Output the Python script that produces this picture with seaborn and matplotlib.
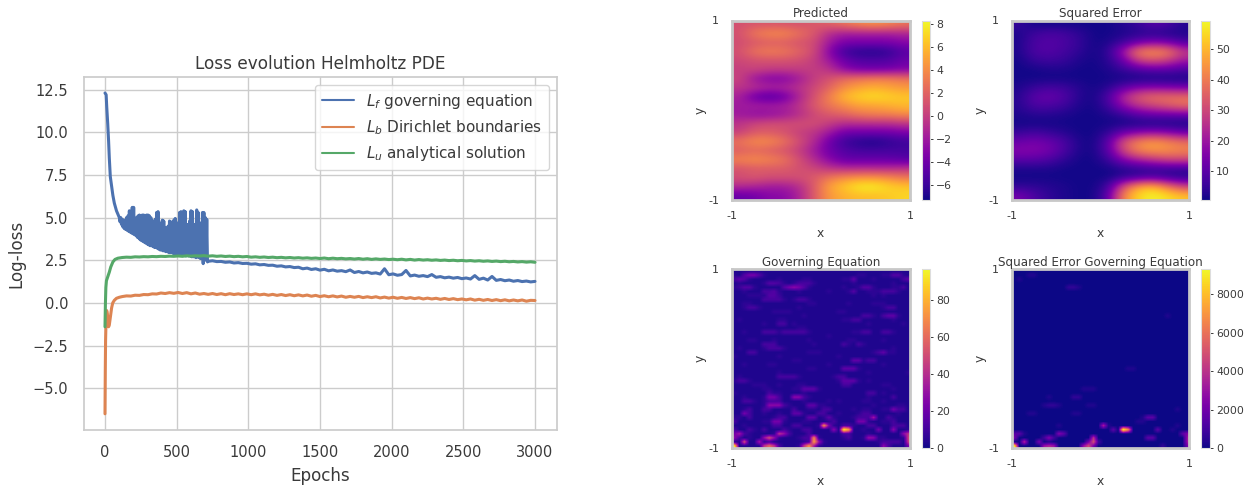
import numpy as np
import matplotlib
matplotlib.use("Agg")
import matplotlib.pyplot as plt
import seaborn as sns

# --- loss curves ---
lf_start_x = [0, 8, 12, 19, 25, 30, 37, 45, 55, 65, 80, 95]
lf_start = [12.3, 12.2, 11.5, 10.5, 9.5, 8.5, 7.4, 6.9, 6.3, 5.85, 5.4, 5.1]
# noisy part 100..710 every 10 epochs, top and bottom of the band
lf_band_x = list(range(100, 720, 10))
lf_band_hi = [5.0, 5.0, 4.9, 4.85, 4.85, 5.0, 5.1, 5.4, 4.9, 5.6, 5.6, 4.9, 5.0, 5.1, 5.15, 5.1,
              5.15, 5.15, 5.1, 5.15, 5.15, 5.1, 5.0, 4.8, 4.4, 4.9, 5.3, 5.35, 4.7, 4.5, 4.85, 4.8,
              4.4, 4.15, 4.5, 4.8, 4.75, 4.6, 4.85, 4.95, 4.7, 4.5, 5.3, 5.35, 4.6, 5.4, 5.35, 4.6,
              4.6, 4.8, 5.4, 5.35, 4.6, 4.4, 5.45, 5.3, 4.7, 4.5, 5.3, 5.3, 5.0, 4.9]
lf_band_lo = [4.75, 4.6, 4.45, 4.35, 4.3, 4.25, 4.2, 4.15, 4.1, 4.05, 4.0, 3.95, 3.85, 3.8, 3.7, 3.65,
              3.6, 3.55, 3.5, 3.45, 3.4, 3.35, 3.35, 3.3, 3.25, 3.25, 3.2, 3.15, 3.1, 3.1, 3.05, 3.05,
              3.0, 3.0, 2.95, 2.95, 2.95, 2.9, 2.9, 2.9, 2.85, 2.85, 2.8, 2.85, 2.8, 2.8, 2.75, 2.8,
              2.75, 2.75, 2.7, 2.7, 2.7, 2.65, 2.7, 2.65, 2.6, 2.6, 2.3, 2.6, 2.5, 2.4]
lf_tail_x = list(range(720, 3030, 30))
lf_tail = [2.44, 2.47, 2.42, 2.43, 2.38, 2.4, 2.34, 2.36, 2.31, 2.32, 2.27, 2.29, 2.23, 2.25, 2.2, 2.21,
           2.15, 2.17, 2.11, 2.13, 2.07, 2.09, 2.0, 2.04, 1.96, 2.0, 1.92, 1.97, 1.88, 1.93, 1.86, 1.89,
           1.83, 1.93, 1.78, 1.84, 1.76, 1.81, 1.73, 1.76, 1.69, 2.0, 1.65, 1.7, 1.62, 1.66, 1.9, 1.58,
           1.63, 1.56, 1.6, 1.54, 1.66, 1.5, 1.54, 1.47, 1.51, 1.45, 1.49, 1.42, 1.46, 1.4, 1.6, 1.38,
           1.45, 1.34, 1.55, 1.32, 1.37, 1.3, 1.34, 1.27, 1.31, 1.25, 1.28, 1.23, 1.26]

lb_start_x = [0, 2, 4, 6, 8, 12, 16, 20, 25, 30, 38, 46, 54, 65, 80, 100]
lb_start = [-6.5, -4, -2.2, -1.5, -0.6, -0.45, -0.6, -1.0, -1.4, -1.3, -0.8, -0.3, 0, 0.15, 0.27, 0.33]
lu_start_x = [0, 3, 6, 10, 20, 30, 40, 55, 70, 90]
lu_start = [-1.4, 0, 0.9, 1.3, 1.55, 1.8, 2.1, 2.4, 2.55, 2.62]
tail_x = list(range(120, 3030, 30))
lb_tail = [.37, .41, .4, .45, .44, .49, .48, .53, .52, .58, .55, .6, .56, .61, .55, .6, .53, .58, .51, .55,
           .5, .55, .49, .54, .48, .54, .49, .53, .48, .53, .48, .53, .47, .51, .45, .5, .44, .49, .43, .48,
           .42, .47, .41, .46, .39, .44, .37, .42, .36, .41, .35, .4, .33, .38, .33, .38, .31, .36, .31, .36,
           .29, .34, .28, .33, .27, .32, .26, .31, .25, .3, .23, .28, .23, .27, .21, .26, .2, .25, .19, .23,
           .18, .23, .16, .21, .15, .2, .14, .19, .13, .18, .12, .17, .12, .17, .1, .15, .14]
lu_tail = [2.66, 2.68, 2.67, 2.7, 2.69, 2.71, 2.7, 2.72, 2.71, 2.73, 2.72, 2.74, 2.73, 2.75, 2.73, 2.76,
           2.74, 2.76, 2.75, 2.77, 2.74, 2.76, 2.73, 2.75, 2.72, 2.74, 2.71, 2.73, 2.7, 2.72,
           2.68, 2.7, 2.67, 2.69, 2.66, 2.68, 2.65, 2.67, 2.64, 2.66, 2.63, 2.65, 2.62, 2.64, 2.61, 2.63,
           2.6, 2.63, 2.59, 2.62, 2.59, 2.61, 2.58, 2.6, 2.57, 2.6, 2.56, 2.59, 2.55, 2.58,
           2.55, 2.57, 2.54, 2.56, 2.53, 2.56, 2.52, 2.55, 2.51, 2.54, 2.51, 2.53, 2.5, 2.52, 2.49, 2.51,
           2.48, 2.5, 2.47, 2.49, 2.46, 2.48, 2.45, 2.47, 2.44, 2.46, 2.43, 2.45, 2.42, 2.44,
           2.41, 2.43, 2.4, 2.42, 2.39, 2.41, 2.38]

# --- heatmap grids, top row first ---
predicted = [
    [1, 1.2, 1.2, 1.2, 1, 1.5, 2, 3, 4, 4.5, 4, 3],
    [1, 3.2, 4, 4, 2.8, 1.5, -1, -2, -2, -2, -2, -1.5],
    [0.8, 1.2, 1.5, 1.5, 1, 0.8, -2, -3.5, -3.5, -3.5, -3.5, -3],
    [1, 3, 3.5, 3.2, 2.2, 0.8, -3, -6, -6.8, -7, -6.5, -5],
    [0.5, 0.8, 1, 1, 0.8, 0, -2, -4, -5, -5, -5, -4],
    [0, 0.5, 0, 0, 0, 0, -0.5, -3, -4, -4.2, -4, -3.5],
    [0.5, -2.5, -3.5, -3.5, -2, 0, 1, 2.5, 3, 3.5, 3.5, 3],
    [-0.5, -0.5, -1, -1, -0.5, 0.5, 2, 4, 5, 5.5, 5, 4.5],
    [-1.5, -4.5, -5.5, -4.5, -1.5, 1, 3.5, 6, 7, 7.5, 7, 6.5],
    [-2, -1.5, -1.5, -1.5, -0.5, 1.5, 3, 4, 5, 5, 5.5, 6],
    [-2, -2.8, -2.8, -2.2, -1, 0.5, 1.5, 2, 3, 3.5, 3.5, 4],
    [-0.5, 0.5, 1, 1, 1, 1, 0, -1, -1, -1, -1, -0.5],
    [0, 1.5, 1.5, 1, 0, -0.5, -2, -4, -4, -4, -4, -3.5],
    [3, 4.2, 4.2, 3, 1, -1, -4, -6, -6.8, -7.2, -6.5, -6],
    [1.5, 2, 1.5, 1, 0, -2, -4, -5, -5.5, -5.5, -5.5, -5.5],
    [3.8, 4.2, 3.8, 3, 1, -1, -3, -4.5, -4.5, -4.5, -4.5, -5],
    [1, 1.5, 1.5, 1.5, 1, 0.5, -0.5, -1, -1, -1, -1, -0.5],
    [1, 1.5, 1, 1, 1, 1.5, 3, 4, 4.5, 4.5, 4, 3],
    [-1, -1.5, -2, -2, -1, 1.5, 5, 6.5, 8, 8.2, 7, 6.5],
    [-4.5, -4, -3, -3, -1.5, 1.5, 4.5, 5.5, 6, 6, 6.5, 7],
]
squared_error = [
    [5, 1, 1, 1, 1, 1, 1, 3, 5, 10, 8, 3],
    [2, 6, 8, 7, 4, 1, 1, 2, 3, 3, 2, 2],
    [2, 8, 9, 8, 5, 1, 2, 6, 12, 16, 14, 8],
    [2, 8, 9, 7, 4, 1, 4, 20, 42, 45, 42, 28],
    [1, 5, 6, 5, 2, 1, 3, 12, 28, 32, 28, 20],
    [1, 1, 2, 2, 1, 1, 2, 5, 8, 10, 10, 8],
    [1, 1, 1, 1, 1, 1, 1, 1, 1, 1, 1, 1],
    [2, 5, 7, 6, 3, 1, 3, 10, 15, 16, 15, 14],
    [3, 10, 12, 9, 3, 1, 8, 24, 34, 38, 38, 38],
    [3, 8, 8, 6, 2, 1, 6, 18, 26, 30, 34, 38],
    [2, 3, 3, 2, 1, 1, 2, 5, 10, 12, 12, 12],
    [1, 1, 1, 1, 1, 1, 1, 1, 1, 1, 1, 1],
    [5, 7, 5, 3, 1, 1, 4, 12, 16, 18, 16, 12],
    [12, 14, 12, 8, 2, 1, 10, 32, 42, 46, 42, 38],
    [16, 16, 14, 8, 2, 1, 10, 30, 42, 45, 44, 42],
    [10, 10, 8, 4, 1, 1, 5, 16, 22, 26, 30, 30],
    [2, 2, 2, 1, 1, 1, 1, 3, 4, 5, 5, 5],
    [1, 1, 1, 1, 1, 1, 1, 4, 6, 8, 5, 3],
    [4, 4, 3, 2, 1, 1, 6, 32, 48, 52, 40, 30],
    [14, 8, 4, 2, 1, 1, 10, 42, 55, 59, 56, 52],
]
# one base-36 character per cell, units of 2.75
governing_rows = [
    "111111 111111 111111 111111 111111 111111",
    "215885 211111 111111 111111 122111 225521",
    "465211 111211 112211 111122 611121 111146",
    "121111 255421 244421 111111 211111 112111",
    "235521 111158 a85211 111121 125521 112241",
    "112111 445211 121111 121112 511222 444211",
    "111222 255311 111111 111111 111121 211111",
    "111111 444421 244211 111111 111111 111111",
    "112211 111111 111221 111112 111122 211111",
    "112442 111111 121111 111111 111111 244111",
    "111111 112222 111111 111221 111111 111111",
    "111111 111111 112111 111111 114421 466211",
    "121111 111221 111111 111122 441111 112111",
    "111111 211441 211111 111111 111211 111121",
    "111111 111111 122111 111111 111111 111111",
    "112111 444244 444211 111111 224411 442111",
    "111111 111111 111111 121111 111111 111111",
    "111221 112111 111211 111112 211111 211111",
    "111111 444111 111121 111142 142111 111111",
    "121111 244421 111111 111111 111111 112111",
    "111441 111111 111222 111111 111124 622111",
    "211111 111211 111111 111211 111111 111111",
    "111111 111111 221111 111111 662441 111111",
    "112111 122111 111111 121111 111111 211111",
    "111111 111111 111221 111166 621111 111111",
    "111111 111211 111111 111111 111211 111112",
    "121111 111444 421111 112441 111111 111111",
    "244211 111111 111111 111266 621211 111111",
    "111122 211211 122111 111144 111111 221111",
    "111111 221111 226662 111111 111111 112111",
    "211111 142211 112111 111111 111441 211111",
    "112111 288411 aa4211 111111 111211 114111",
    "114421 244411 112111 121211 112211 211111",
    "111111 2aaa42 111662 211111 111121 111221",
    "112411 441111 411221 441111 212211 228441",
    "118411 211211 662114 411211 124411 111211",
    "221411 112441 111661 262111 2444c1 142111",
    "411111 228821 112211 124111 188211 224111",
    "112111 114411 441112 p82144 211441 114441",
    "411421 411142 114411 11a1zr 112118 11a112",
    "8c4211 112fb4 111411 111144 111211 1111af",
    "a41211 bib211 1244p2 111124 112ba2 21112h",
    "21i11c 241111 1124rb 211111 111112 44441g",
    "z11111 gmg411 12grc2 111111 111111 a41118",
]
# same layout, units of 300
sq_error_gov_rows = [
    "000000 000000 000000 000000 000000 000000",
    "000110 000000 000000 000000 000000 000000",
    "010000 000000 000000 000000 000000 000000",
    "000000 000000 000000 000000 000000 000000",
    "000000 000002 210000 000000 000000 000000",
    "000000 000000 000000 000000 000000 000000",
    "000000 000000 000000 000000 000000 000000",
    "000000 000000 000000 000000 000000 000000",
    "000000 000000 000000 000000 000000 000000",
    "000000 000000 000000 000000 000000 000000",
    "000000 000000 000000 000000 000000 000000",
    "000000 000000 000000 000000 000000 010000",
    "000000 000000 000000 000000 000000 000000",
    "000000 000000 000000 000000 000000 000000",
    "000000 000000 000000 000000 000000 000000",
    "000000 000000 000000 000000 000000 000000",
    "000000 000000 000000 000000 000000 000000",
    "000000 000000 000000 000000 000000 000000",
    "000000 000000 000000 000000 000000 000000",
    "000000 000000 000000 000000 000000 000000",
    "000000 000000 000000 000000 000000 000000",
    "000000 000000 000000 000000 000000 000000",
    "000000 000000 000000 000000 000000 000000",
    "000000 000000 000000 000000 000000 000000",
    "000000 000000 000000 000001 100000 000000",
    "000000 000000 000000 000000 000000 000000",
    "000000 000000 000000 000000 000000 000000",
    "000000 000000 000000 000000 000000 000000",
    "000000 000000 000000 000000 000000 000000",
    "000000 000000 001110 000000 000000 000000",
    "000000 000000 000000 000000 000000 000000",
    "000000 010000 220000 000000 000000 000000",
    "000000 000000 000000 000000 000000 000000",
    "000000 122100 000110 000000 000000 000000",
    "000000 000000 000000 000000 000000 000100",
    "000110 000000 110000 000000 000000 000000",
    "000000 000000 000000 000000 001550 000000",
    "000000 000000 000000 000000 011000 000000",
    "000000 000100 000000 b10000 000000 000100",
    "000000 000000 000000 0050vm 000005 001000",
    "551000 000850 000000 000000 000000 000058",
    "700000 383000 0000d0 000000 000550 00000a",
    "00c007 010000 0007g3 000000 000000 00000a",
    "v00000 aca000 00ag70 000000 000000 200007",
]
tick_predicted = [-6, -4, -2, 0, 2, 4, 6, 8]
tick_squared = [10, 20, 30, 40, 50]
tick_governing = [0, 20, 40, 60, 80]
tick_sq_gov = [0, 2000, 4000, 6000, 8000]


def decode(rows, unit):
    return np.array([[int(c, 36) * unit for c in r.replace(" ", "")] for r in rows], dtype=float)


W, H = 1256, 491
sns.set_theme(style="whitegrid", palette="deep")
TXT = "#3a3a3a"
fig = plt.figure(figsize=(W / 100, H / 100), dpi=100)


def px_axes(l, t, r, b):
    return fig.add_axes([l / W, 1 - b / H, (r - l) / W, (b - t) / H])


# left panel
ax = px_axes(83.5, 77, 556.5, 430)
lf_x = lf_start_x + [v for e in lf_band_x for v in (e, e + 5)] + lf_tail_x
lf_y = lf_start + [v for p in zip(lf_band_hi, lf_band_lo) for v in p] + lf_tail
lb_x = lb_start_x + tail_x
lb_y = lb_start + lb_tail
lu_x = lu_start_x + tail_x
lu_y = lu_start + lu_tail
for xs, ys, lab in [(lf_x, lf_y, r"$L_f$ governing equation"),
                    (lb_x, lb_y, r"$L_b$ Dirichlet boundaries"),
                    (lu_x, lu_y, r"$L_u$ analytical solution")]:
    sns.lineplot(x=xs, y=ys, estimator=None, errorbar=None, sort=False, label=lab, lw=2.2, ax=ax)
ax.set_xlim(-150, 3150)
ax.set_ylim(-7.45, 13.24)
ax.set_xticks([0, 500, 1000, 1500, 2000, 2500, 3000])
ax.set_yticks([-5, -2.5, 0, 2.5, 5, 7.5, 10, 12.5])
ax.tick_params(labelsize=10.5, labelcolor=TXT, pad=5)
ax.set_title("Loss evolution Helmholtz PDE", fontsize=12.2, color=TXT, pad=6)
ax.set_xlabel("Epochs", fontsize=12.1, color=TXT, labelpad=5)
ax.set_ylabel("Log-loss", fontsize=12.1, color=TXT, labelpad=5)
leg = ax.legend(loc="upper right", fontsize=11, labelcolor=TXT, handlelength=2.1,
                borderaxespad=0.5, labelspacing=0.5, borderpad=0.45)
for h in leg.get_lines():
    h.set_linewidth(1.5)

# right panels
panels = [
    (predicted, "Predicted", 731.5, 910, 921.5, 930, 20.5, 200, -7.3, 8.3, tick_predicted, "bicubic"),
    (squared_error, "Squared Error", 1011.5, 1189, 1200.5, 1210, 20.5, 200, 0.5, 59.5, tick_squared, "bicubic"),
    (decode(governing_rows, 2.75), "Governing Equation", 731.5, 910, 921.5, 930, 269, 448, 0, 97, tick_governing, "bilinear"),
    (decode(sq_error_gov_rows, 300), "Squared Error Governing Equation", 1011.5, 1189, 1200.5, 1210, 269, 448, 0, 9300, tick_sq_gov, "bilinear"),
]
for data, title, l, r, cl, cr, t, b, vmin, vmax, cticks, interp in panels:
    a = px_axes(l, t, r, b)
    im = a.imshow(np.array(data, dtype=float), cmap="plasma", vmin=vmin, vmax=vmax, aspect="auto",
                  interpolation=interp, extent=[-1, 1, -1, 1])
    a.grid(False)
    a.set_xticks([-1, 1], ["-1", "1"])
    a.set_yticks([-1, 1], ["-1", "1"])
    a.tick_params(axis="x", labelsize=8, labelcolor=TXT, length=0, pad=8)
    a.tick_params(axis="y", labelsize=8, labelcolor=TXT, length=0, pad=9)
    a.set_title(title, fontsize=8.6, color=TXT, pad=2.5)
    a.set_xlabel("x", fontsize=8.8, color=TXT, labelpad=4)
    a.set_ylabel("y", fontsize=8.8, color=TXT, labelpad=1)
    for s in a.spines.values():
        s.set_color("#c8c8c8")
        s.set_linewidth(2)
    cax = px_axes(cl, t, cr, b)
    cb = fig.colorbar(im, cax=cax, ticks=cticks)
    cb.outline.set_edgecolor("#dddddd")
    cb.outline.set_linewidth(0.8)
    cb.ax.grid(False)
    cb.ax.tick_params(labelsize=7.8, labelcolor=TXT, length=2.5, width=0.7, color=TXT, pad=2)

fig.savefig("out.png", dpi=100)
